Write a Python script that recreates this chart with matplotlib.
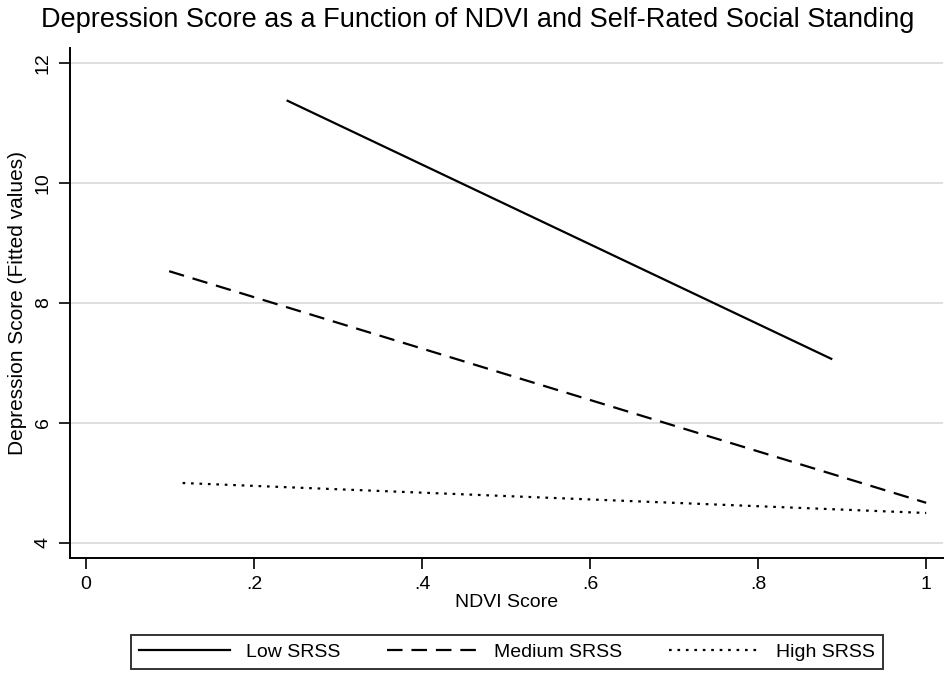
import matplotlib
matplotlib.use('Agg')
import matplotlib.pyplot as plt

plt.rcParams['font.family'] = ['Liberation Sans', 'DejaVu Sans']

# fitted lines (start / end points)
low_x = [0.24, 0.887]
low_y = [11.37, 7.07]
med_x = [0.099, 1.0]
med_y = [8.53, 4.67]
high_x = [0.115, 1.0]
high_y = [5.0, 4.5]

labels = ['Low SRSS', 'Medium SRSS', 'High SRSS']
xticks = [0, 0.2, 0.4, 0.6, 0.8, 1.0]
xtick_labels = ['0', '.2', '.4', '.6', '.8', '1']
yticks = [4, 6, 8, 10, 12]

fig = plt.figure(figsize=(9.45, 6.78), dpi=100)
ax = fig.add_axes([70/945, 1 - 558/678, 873/945, 510/678])

ax.plot(low_x, low_y, color='black', lw=1.6, linestyle='-', label=labels[0])
ax.plot(med_x, med_y, color='black', lw=1.6, linestyle=(0, (7, 4)), label=labels[1])
ax.plot(high_x, high_y, color='black', lw=1.6, linestyle=(0, (1.2, 2.6)), label=labels[2])

ax.set_xlim(-0.019, 1.02)
ax.set_ylim(3.75, 12.25)
ax.set_xticks(xticks)
ax.set_xticklabels(xtick_labels)
ax.set_yticks(yticks)
ax.set_yticklabels([str(v) for v in yticks], rotation=90, va='center')
ax.tick_params(axis='both', direction='out', length=8, width=1.2, labelsize=14, colors='black')
ax.tick_params(axis='y', pad=5)
ax.tick_params(axis='x', pad=5)

ax.grid(axis='y', color='#d9d9d9', lw=1.2)
ax.set_axisbelow(True)
for s in ['top', 'right']:
    ax.spines[s].set_visible(False)
for s in ['left', 'bottom']:
    ax.spines[s].set_linewidth(1.4)

ax.set_xlabel('NDVI Score', fontsize=14, labelpad=1)
ax.set_ylabel('Depression Score (Fitted values)', fontsize=15, labelpad=6)
fig.suptitle('Depression Score as a Function of NDVI and Self-Rated Social Standing',
             fontsize=19.5, x=0.505, y=0.99)

leg = fig.legend(loc='center', ncol=3, mode='expand',
                 bbox_to_anchor=(131/945, 1 - 674/678, 752/945, 44/678),
                 fontsize=14, handlelength=4.7, handletextpad=0.8,
                 frameon=True, fancybox=False, edgecolor='black', borderaxespad=0)
leg.get_frame().set_linewidth(1.4)

fig.savefig('out.png', dpi=100)
